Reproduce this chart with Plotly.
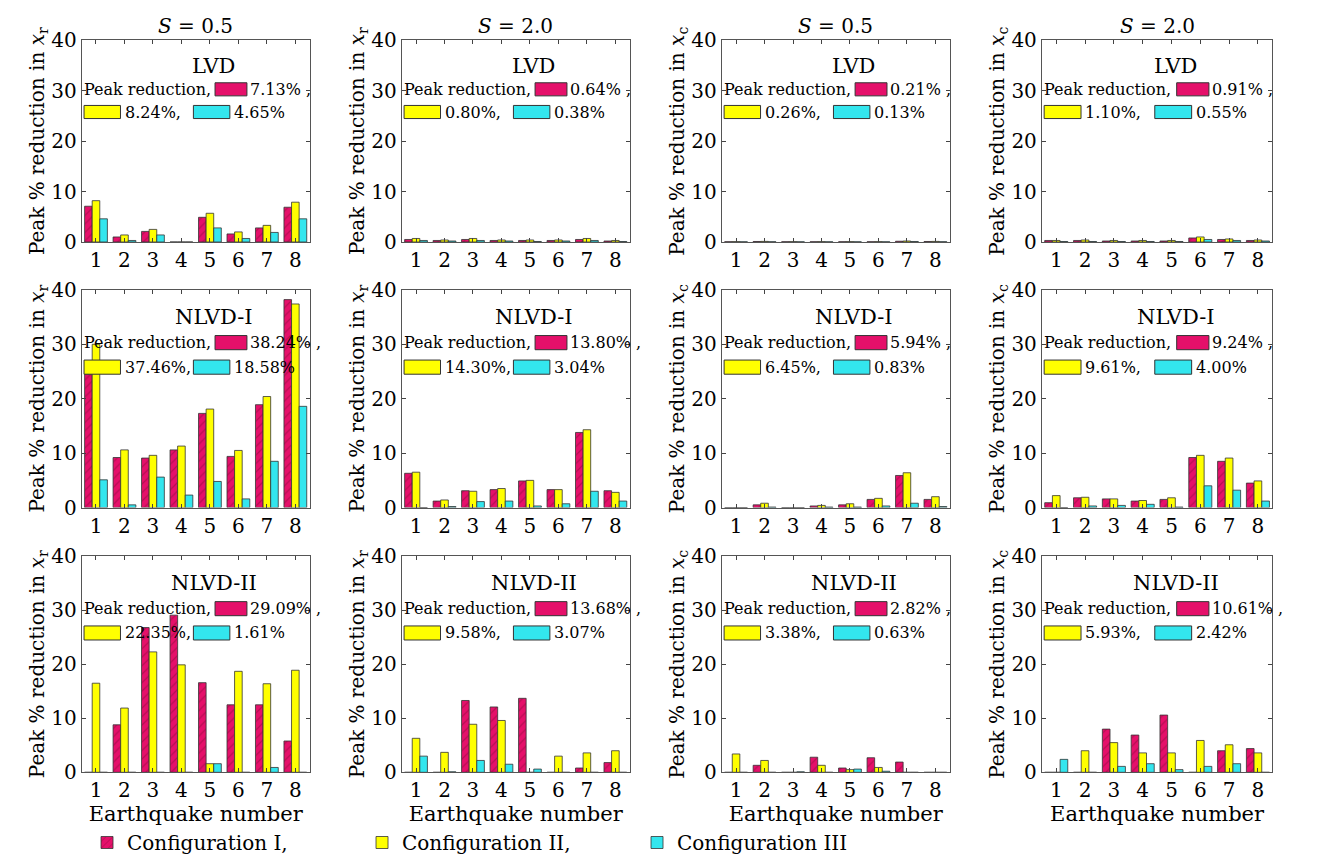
import plotly.graph_objects as go
from plotly.subplots import make_subplots

quakes = [1, 2, 3, 4, 5, 6, 7, 8]
col_titles = ["<i>S</i> = 0.5", "<i>S</i> = 2.0", "<i>S</i> = 0.5", "<i>S</i> = 2.0"]
row_names = ["LVD", "NLVD-I", "NLVD-II"]

# [row][col] -> (config I, config II, config III)
data = [
    [
        ([7.1, 1.0, 2.1, 0, 4.9, 1.6, 2.8, 6.9], [8.2, 1.4, 2.5, 0, 5.7, 2.0, 3.3, 7.9], [4.6, 0.3, 1.4, 0, 2.8, 0.7, 1.9, 4.6]),
        ([0.5, 0.3, 0.5, 0.3, 0.3, 0.3, 0.5, 0.2], [0.7, 0.4, 0.7, 0.4, 0.4, 0.4, 0.7, 0.3], [0.3, 0.2, 0.3, 0.2, 0.1, 0.2, 0.3, 0.1]),
        ([0.05, 0.1, 0.05, 0.05, 0.05, 0.05, 0.15, 0.1], [0.07, 0.12, 0.07, 0.07, 0.07, 0.07, 0.2, 0.12], [0.03, 0.05, 0.03, 0.03, 0.03, 0.03, 0.1, 0.05]),
        ([0.3, 0.3, 0.2, 0.2, 0.2, 0.8, 0.5, 0.3], [0.3, 0.4, 0.3, 0.3, 0.3, 1.0, 0.6, 0.4], [0.1, 0.1, 0.1, 0.1, 0.1, 0.5, 0.3, 0.2]),
    ],
    [
        ([24.5, 9.2, 9.1, 10.6, 17.3, 9.4, 18.9, 38.2], [30.0, 10.6, 9.6, 11.3, 18.1, 10.5, 20.4, 37.4], [5.1, 0.5, 5.6, 2.3, 4.8, 1.6, 8.5, 18.6]),
        ([6.3, 1.2, 3.1, 3.3, 4.9, 3.3, 13.8, 3.1], [6.5, 1.4, 3.0, 3.5, 5.0, 3.3, 14.3, 2.8], [0, 0.2, 1.1, 1.2, 0.3, 0.7, 3.0, 1.2]),
        ([0, 0.5, 0, 0.3, 0.5, 1.5, 5.9, 1.5], [0, 0.8, 0, 0.4, 0.7, 1.7, 6.4, 2.0], [0, 0.1, 0, 0.1, 0.1, 0.3, 0.8, 0.2]),
        ([0.9, 1.8, 1.6, 1.2, 1.5, 9.2, 8.5, 4.5], [2.2, 1.9, 1.6, 1.3, 1.8, 9.6, 9.1, 4.9], [0, 0.3, 0.4, 0.6, 0.1, 4.0, 3.2, 1.2]),
    ],
    [
        ([0, 8.8, 26.8, 29.1, 16.6, 12.5, 12.5, 5.8], [16.5, 11.9, 22.3, 19.9, 1.6, 18.7, 16.4, 18.9], [0, 0, 0, 0, 1.6, 0, 0.9, 0]),
        ([0, 0, 13.3, 12.1, 13.7, 0, 0.8, 1.8], [6.3, 3.7, 8.9, 9.6, 0, 3.0, 3.6, 4.0], [3.0, 0.1, 2.2, 1.5, 0.6, 0, 0, 0]),
        ([0, 1.3, 0, 2.8, 0.8, 2.7, 1.9, 0], [3.4, 2.2, 0, 1.3, 0.5, 0.9, 0, 0], [0, 0, 0.1, 0, 0.6, 0.2, 0, 0]),
        ([0, 0, 8.0, 6.9, 10.6, 0, 4.0, 4.4], [0, 4.0, 5.5, 3.6, 3.6, 5.9, 5.1, 3.6], [2.4, 0, 1.1, 1.6, 0.5, 1.1, 1.6, 0]),
    ],
]

peaks = [
    [("7.13%", "8.24%", "4.65%"), ("0.64%", "0.80%", "0.38%"), ("0.21%", "0.26%", "0.13%"), ("0.91%", "1.10%", "0.55%")],
    [("38.24%", "37.46%", "18.58%"), ("13.80%", "14.30%", "3.04%"), ("5.94%", "6.45%", "0.83%"), ("9.24%", "9.61%", "4.00%")],
    [("29.09%", "22.35%", "1.61%"), ("13.68%", "9.58%", "3.07%"), ("2.82%", "3.38%", "0.63%"), ("10.61%", "5.93%", "2.42%")],
]

config_names = ["Configuration I,", "Configuration II,", "Configuration III"]
colors = ["#e5106a", "#ffff00", "#33e6ee"]

FONT = "DejaVu Serif"
xdom = [(0.056, 0.229), (0.299, 0.472), (0.542, 0.715), (0.785, 0.960)]
ydom = [(0.726, 0.962), (0.415, 0.670), (0.105, 0.358)]


def fx(f):
    # fraction of the x range -> data x
    return 0.5 + 8 * f


fig = make_subplots(rows=3, cols=4)

for r in range(3):
    for c in range(4):
        for k in range(3):
            fig.add_trace(
                go.Bar(
                    x=quakes, y=data[r][c][k], name=config_names[k],
                    marker=dict(color=colors[k], line=dict(color="#333", width=0.8),
                                pattern=dict(shape="/" if k == 0 else "", fgcolor="#8a0a3c", size=6)),
                    showlegend=(r == 0 and c == 0), legendgroup=str(k),
                ),
                row=r + 1, col=c + 1,
            )
        idx = r * 4 + c + 1
        xa = "xaxis" if idx == 1 else f"xaxis{idx}"
        ya = "yaxis" if idx == 1 else f"yaxis{idx}"
        sub = "r" if c < 2 else "c"
        fig.layout[xa].update(domain=list(xdom[c]))
        fig.layout[ya].update(
            domain=list(ydom[r]),
            title=dict(text=f"Peak % reduction in <i>x</i><sub>{sub}</sub>", font=dict(size=20), standoff=0),
        )
        if r == 2:
            fig.layout[xa].update(title=dict(text="Earthquake number", font=dict(size=21), standoff=0))
        xr = "x" if idx == 1 else f"x{idx}"
        yr = "y" if idx == 1 else f"y{idx}"
        p = peaks[r][c]
        txt = dict(xref=xr, yref=yr, showarrow=False, font=dict(size=16), xanchor="left", yanchor="middle")
        fig.add_annotation(x=fx(0.58), y=35, xref=xr, yref=yr, text=row_names[r], showarrow=False,
                           font=dict(size=21), xanchor="center", yanchor="middle")
        fig.add_annotation(x=fx(0.0), y=30.3, text="Peak reduction,", **txt)
        fig.add_annotation(x=fx(0.73), y=30.3, text=p[0] + " ,", **txt)
        fig.add_annotation(x=fx(0.18), y=25.8, text=p[1] + ",", **txt)
        fig.add_annotation(x=fx(0.66), y=25.8, text=p[2], **txt)
        for (x0, x1, y0, y1, k) in [(0.585, 0.725, 29.0, 31.6, 0), (0.01, 0.17, 24.5, 27.1, 1), (0.49, 0.65, 24.5, 27.1, 2)]:
            fig.add_shape(type="rect", xref=xr, yref=yr, x0=fx(x0), x1=fx(x1), y0=y0, y1=y1,
                          fillcolor=colors[k], line=dict(color="#333", width=1))
        if r == 0:
            fig.add_annotation(x=0.5, y=1.0, xref=xr + " domain", yref=yr + " domain", text=col_titles[c],
                               showarrow=False, font=dict(size=20), yanchor="bottom")

fig.update_xaxes(range=[0.5, 8.5], tickvals=quakes, ticks="inside", ticklen=4, mirror="ticks",
                 showline=True, linecolor="#555", showgrid=False, tickfont=dict(size=20), automargin=False)
fig.update_yaxes(range=[0, 40], dtick=10, ticks="inside", ticklen=4, mirror="ticks",
                 showline=True, linecolor="#555", showgrid=False, zeroline=False, tickfont=dict(size=20),
                 automargin=False)

fig.update_layout(
    width=1317, height=854,
    margin=dict(l=0, r=0, t=0, b=0, autoexpand=False),
    barmode="group", bargap=0.2, bargroupgap=0.0,
    plot_bgcolor="white", paper_bgcolor="white",
    font=dict(family=FONT, color="black", size=18),
    legend=dict(orientation="h", x=0.06, y=0.0, xanchor="left", yanchor="bottom",
                font=dict(size=20), tracegroupgap=0, entrywidth=230, entrywidthmode="pixels"),
)

fig.write_html("out.html")
